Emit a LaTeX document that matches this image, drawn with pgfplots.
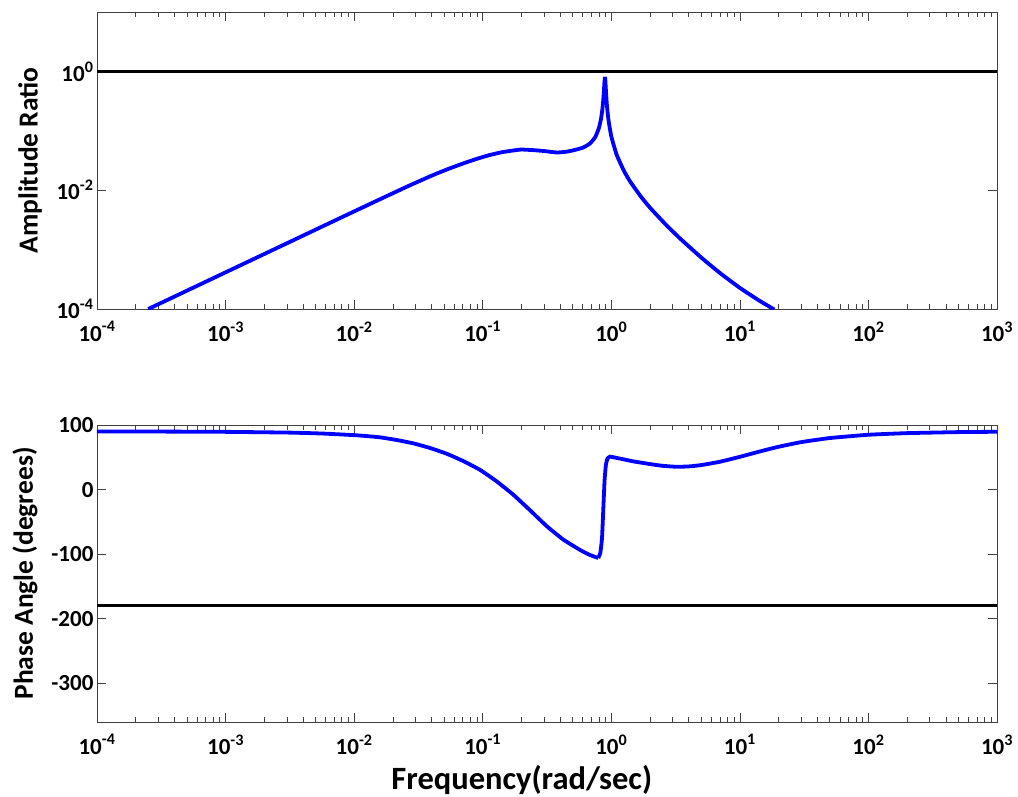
\documentclass[border=0pt]{standalone}
\usepackage{fontspec}
\setmainfont{Carlito}
\usepackage{pgfplots}
\pgfplotsset{compat=1.18}
\begin{document}
\begin{tikzpicture}[x=1pt,y=1pt]
\useasboundingbox (0,0) rectangle (1018,-797);
\pgfplotsset{
  every axis/.append style={
    scale only axis, width=900pt, height=297pt,
    xmode=log, xmin=1e-4, xmax=1e3,
    xtick={1e-4,1e-3,1e-2,1e-1,1,1e1,1e2,1e3},
    xticklabels={10\textsuperscript{-4},10\textsuperscript{-3},10\textsuperscript{-2},10\textsuperscript{-1},10\textsuperscript{0},10\textsuperscript{1},10\textsuperscript{2},10\textsuperscript{3}},
    minor xtick={2e-4,3e-4,4e-4,5e-4,6e-4,7e-4,8e-4,9e-4,
                 2e-3,3e-3,4e-3,5e-3,6e-3,7e-3,8e-3,9e-3,
                 2e-2,3e-2,4e-2,5e-2,6e-2,7e-2,8e-2,9e-2,
                 0.2,0.3,0.4,0.5,0.6,0.7,0.8,0.9,
                 2,3,4,5,6,7,8,9,
                 20,30,40,50,60,70,80,90,
                 200,300,400,500,600,700,800,900},
    tick align=inside, major tick length=9pt, minor tick length=5pt,
    axis line style={black!75, line width=0.8pt},
    every tick/.style={black!75, line width=0.6pt},
    ticklabel style={font=\fontsize{23}{25}\selectfont\bfseries},
    xticklabel style={yshift=-9pt},
    yminorticks=false,
  }
}
% ---------------- top axis ----------------
\begin{axis}[
  at={(97pt,-12pt)}, anchor=north west,
  ymode=log, ymin=1e-4, ymax=10,
  ytick={1e-4,1e-2,1},
  yticklabels={10\textsuperscript{-4},10\textsuperscript{-2},10\textsuperscript{0}},
  ylabel={Amplitude Ratio},
  every axis y label/.style={at={(axis description cs:-0.0744,0.5)}, rotate=90, anchor=center, font=\fontsize{27.5}{30}\selectfont\bfseries},
]
\addplot[black, line width=2.6pt] coordinates {(1e-4,1) (1e3,1)};
\addplot[blue, line width=3.8pt, smooth, tension=0.3] coordinates {
(2.506e-4,1e-4) (1e-3,4.140e-4) (3.162e-3,1.349e-3) (0.01,4.395e-3)
(0.02512,0.01119) (0.03981,0.01746) (0.05248,0.02228) (0.07079,0.02831)
(0.08913,0.03350) (0.1122,0.03890) (0.1413,0.04365) (0.1778,0.04699)
(0.2,0.0484) (0.25,0.0472) (0.3,0.04565) (0.376,0.04315) (0.44,0.04424)
(0.5,0.0466) (0.6,0.05195) (0.68,0.0607) (0.75,0.0781) (0.8,0.1104)
(0.83,0.1548) (0.85,0.218) (0.865,0.3163) (0.875,0.445) (0.885,0.669)
(0.893,0.808)};
\addplot[blue, line width=3.8pt, smooth, tension=0.3] coordinates {
(0.893,0.808) (0.90,0.688) (0.91,0.446) (0.925,0.268) (0.95,0.155)
(1.0,0.081) (1.1,0.0398) (1.25,0.02148) (1.4,0.01406) (1.7,0.00781)
(2.0,0.00508) (2.7,2.54e-3) (3.5,1.476e-3) (5,7.38e-4) (7,4.04e-4)
(10,2.27e-4) (14,1.406e-4) (18.5,9.82e-5)};
\end{axis}
% ---------------- bottom axis ----------------
\begin{axis}[
  at={(97pt,-425pt)}, anchor=north west,
  ymin=-360, ymax=100,
  ytick={-300,-200,-100,0,100},
  yticklabels={-300,-200,-100,0,100},
  ylabel={Phase Angle (degrees)},
  xlabel={Frequency(rad/sec)},
  every axis y label/.style={at={(axis description cs:-0.08,0.5)}, rotate=90, anchor=center, font=\fontsize{27.5}{30}\selectfont\bfseries},
  every axis x label/.style={at={(axis description cs:0.472,-0.195)}, anchor=center, font=\fontsize{32.5}{35}\selectfont\bfseries},
]
\addplot[black, line width=2.6pt] coordinates {(1e-4,-180) (1e3,-180)};
\addplot[blue, line width=3.8pt, smooth, tension=0.3] coordinates {
(1e-4,89.8) (3.162e-4,89.8) (1e-3,89.4) (3.162e-3,88.2) (5.623e-3,86.8)
(0.01,84.3) (0.01259,82.8) (0.01589,80.9) (0.02138,76.8) (0.02884,71.6)
(0.03890,64.4) (0.05248,55.5) (0.07079,44) (0.09528,30.5) (0.1288,12.5)
(0.1730,-8) (0.2333,-32) (0.3141,-56.5) (0.4236,-77.5) (0.5715,-93.5)
(0.6761,-101) (0.7925,-106)};
\addplot[blue, line width=3.8pt, smooth, tension=0.25] coordinates {
(0.7925,-106) (0.8222,-98) (0.8472,-75) (0.8670,-30) (0.8872,15)
(0.9078,38) (0.9333,48) (0.9772,51) (1.0,50.7) (1.2,47.5) (1.5,43.5)
(2.0,39.5) (2.5,36.8) (3.2,35.3) (4.0,35.8) (5.0,37.9) (7.0,43.1)
(10,50.7) (15,60.1) (20,66.3) (30,73.5) (50,79.8) (100,84.9)
(200,87.4) (500,89.0) (1000,89.5)};
\end{axis}
\end{tikzpicture}
\end{document}
